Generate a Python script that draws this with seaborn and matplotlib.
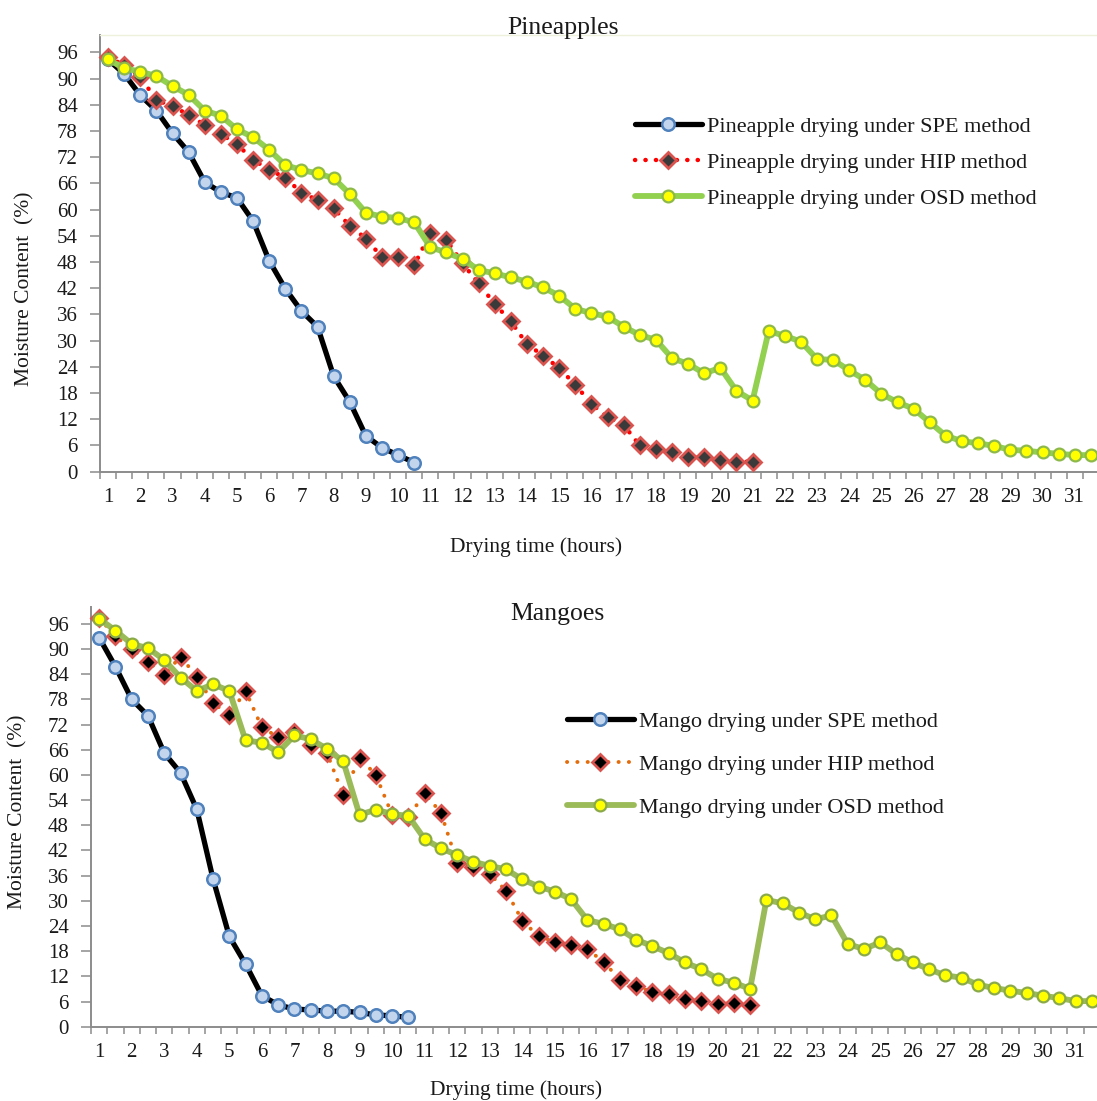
import numpy as np
import pandas as pd
import matplotlib
matplotlib.use("Agg")
import matplotlib.pyplot as plt
import seaborn as sns

# ---- data (moisture content %, one reading every half hour from hour 1) ----
pine_spe = [94.4, 91.1, 86.2, 82.7, 77.5, 73.2, 66.3, 64.0, 62.7, 57.4, 48.3, 41.9,
            36.8, 33.2, 21.9, 16.0, 8.2, 5.5, 3.8, 2.1]
pine_hip = [94.9, 93.1, 90.4, 85.1, 83.7, 81.7, 79.4, 77.3, 75.0, 71.4, 69.2, 67.3,
            63.9, 62.2, 60.3, 56.3, 53.4, 49.1, 49.1, 47.3, 54.6, 53.1, 47.7, 43.1,
            38.4, 34.4, 29.2, 26.6, 23.7, 19.9, 15.5, 12.5, 10.7, 6.0, 5.1, 4.4,
            3.4, 3.3, 2.7, 2.3, 2.3]
pine_osd = [94.4, 92.4, 91.6, 90.6, 88.3, 86.3, 82.7, 81.5, 78.4, 76.6, 73.7, 70.2,
            69.1, 68.3, 67.2, 63.6, 59.3, 58.4, 58.1, 57.1, 51.4, 50.2, 48.7, 46.2,
            45.4, 44.5, 43.5, 42.2, 40.3, 37.3, 36.3, 35.5, 33.2, 31.3, 30.2, 26.0,
            24.7, 22.5, 23.8, 18.5, 16.3, 32.2, 31.1, 29.8, 25.8, 25.6, 23.2, 21.0,
            17.8, 15.9, 14.4, 11.3, 8.2, 7.0, 6.5, 5.9, 5.0, 4.8, 4.4, 4.1, 3.8, 3.8]

mango_spe = [92.7, 85.8, 78.0, 74.1, 65.2, 60.5, 51.8, 35.2, 21.5, 14.9, 7.4, 5.2,
             4.2, 4.0, 3.7, 3.7, 3.4, 2.8, 2.6, 2.2]
mango_hip = [97.4, 93.0, 90.0, 87.0, 83.8, 88.2, 83.4, 77.1, 74.3, 80.0, 71.3, 69.0,
             70.1, 67.2, 65.2, 55.2, 64.1, 60.0, 50.5, 49.9, 55.6, 51.0, 39.1, 38.0,
             36.4, 32.4, 25.3, 21.5, 20.3, 19.5, 18.4, 15.5, 11.1, 9.7, 8.2, 7.7,
             6.6, 6.2, 5.4, 5.6, 5.2]
mango_osd = [97.2, 94.4, 91.2, 90.2, 87.4, 83.2, 80.0, 81.6, 80.0, 68.2, 67.7, 65.4,
             69.4, 68.5, 66.2, 63.2, 50.5, 51.7, 50.7, 50.2, 44.7, 42.5, 40.9, 39.3,
             38.3, 37.5, 35.1, 33.4, 32.2, 30.4, 25.4, 24.5, 23.2, 20.7, 19.2, 17.5,
             15.3, 13.7, 11.4, 10.5, 9.0, 30.2, 29.4, 27.2, 25.6, 26.5, 19.7, 18.5,
             20.1, 17.3, 15.3, 13.7, 12.2, 11.7, 10.0, 9.2, 8.6, 8.0, 7.4, 6.8, 6.1, 6.1]

time_hours = np.arange(1, 32, 0.5)          # category axis: 1, 1.5, ... 31.5
hour_labels = [str(h) for h in range(1, 32)]
y_ticks = list(range(0, 97, 6))

pine_labels = ["Pineapple drying under SPE method",
               "Pineapple drying under HIP method",
               "Pineapple drying under OSD method"]
mango_labels = ["Mango drying under SPE method",
                "Mango drying under HIP method",
                "Mango drying under OSD method"]

# ---- style ----
sns.set_theme(style="white")
plt.rcParams["font.family"] = ["Liberation Serif", "DejaVu Serif"]

W, H = 1097, 1101
fig = plt.figure(figsize=(W / 100, H / 100), dpi=100)

def fx(px):
    return px / W

def fy(py):
    return 1 - py / H

ax1 = fig.add_axes([fx(100), fy(471.7), (1099 - 100) / W, (471.7 - 35) / H])
ax2 = fig.add_axes([fx(91), fy(1026.7), (1100 - 91) / W, (1026.7 - 607) / H])

def series_df(vals):
    return pd.DataFrame({"hour": time_hours[:len(vals)], "mc": vals})

def draw(ax, spe, hip, osd, labels, hip_color, hip_face, osd_color, hip_lw,
         hip_gap, osd_mec):
    sns.lineplot(data=series_df(spe), x="hour", y="mc", ax=ax, color="black",
                 linewidth=3.8, marker="o", markersize=9,
                 markerfacecolor="#C3D5EC", markeredgecolor="#4F81BD",
                 markeredgewidth=1.8, label=labels[0], zorder=3)
    sns.lineplot(data=series_df(hip), x="hour", y="mc", ax=ax, color=hip_color,
                 linewidth=hip_lw, linestyle=(0, (0.05, hip_gap)),
                 dash_capstyle="round", marker="D", markersize=8,
                 markerfacecolor=hip_face, markeredgecolor="#D9534F",
                 markeredgewidth=2.0, label=labels[1], zorder=4)
    sns.lineplot(data=series_df(osd), x="hour", y="mc", ax=ax, color=osd_color,
                 linewidth=4.2, marker="o", markersize=8.5,
                 markerfacecolor="#FFFF00", markeredgecolor=osd_mec,
                 markeredgewidth=1.6, label=labels[2], zorder=5)
    for ln in ax.get_lines():
        ln.set_clip_on(False)

    ax.set_xlim(0.75, 31.75)
    ax.set_ylim(0, 100)
    ax.set_xticks(np.arange(1, 32, 1))
    ax.set_xticklabels(hour_labels)
    ax.set_xticks(np.arange(0.75, 31.8, 0.5), minor=True)
    ax.set_yticks(y_ticks)
    ax.tick_params(axis="x", which="major", length=0, pad=12, labelsize=15,
                   colors="#1a1a1a")
    ax.tick_params(axis="x", which="minor", length=5, width=1.1, color="#8c8c8c",
                   direction="out", bottom=True)
    ax.tick_params(axis="y", which="major", length=7, width=1.1, color="#8c8c8c",
                   direction="out", left=True, pad=9, labelsize=15,
                   labelcolor="#1a1a1a")
    ax.set_xlabel("")
    ax.set_ylabel("")
    for s in ["left", "bottom"]:
        ax.spines[s].set_color("#8c8c8c")
        ax.spines[s].set_linewidth(1.4)
    ax.spines["right"].set_visible(False)
    ax.grid(False)

draw(ax1, pine_spe, pine_hip, pine_osd, pine_labels,
     hip_color="#FF0000", hip_face="#3a3a3a", osd_color="#92D050", hip_lw=3.2,
     hip_gap=2.3, osd_mec="#8DB84A")
ax1.spines["top"].set_color("#eef2dc")
ax1.spines["top"].set_linewidth(1.0)

draw(ax2, mango_spe, mango_hip, mango_osd, mango_labels,
     hip_color="#E46C0A", hip_face="#000000", osd_color="#9BBB59", hip_lw=2.8,
     hip_gap=2.6, osd_mec="#8AAA4A")
ax2.spines["top"].set_visible(False)

# ---- legends ----
for ax, (lx, ly), spacing in [(ax1, (635, 116), 0.70), (ax2, (567, 711), 1.02)]:
    handles = ax.get_lines()[:3]
    leg = ax.legend(handles=handles, labels=[h.get_label() for h in handles],
                    loc="upper left", bbox_to_anchor=(fx(lx), fy(ly)),
                    bbox_transform=fig.transFigure, frameon=False,
                    fontsize=16, handlelength=3.0, handletextpad=0.25,
                    labelspacing=spacing, borderpad=0, borderaxespad=0,
                    numpoints=1)
    for t in leg.get_texts():
        t.set_color("#1a1a1a")

# ---- titles and axis labels ----
fig.text(fx(563), fy(28), "Pineapples", ha="center", va="center", fontsize=18.5,
         color="#1a1a1a")
fig.text(fx(557), fy(614), "Mangoes", ha="center", va="center", fontsize=18.5,
         color="#1a1a1a")
fig.text(fx(536), fy(547), "Drying time (hours)", ha="center", va="center",
         fontsize=15.5, color="#1a1a1a")
fig.text(fx(516), fy(1090), "Drying time (hours)", ha="center", va="center",
         fontsize=15.5, color="#1a1a1a")
fig.text(fx(25), fy(289), "Moisture Content  (%)", ha="center", va="center",
         rotation=90, fontsize=15.5, color="#1a1a1a")
fig.text(fx(18), fy(812), "Moisture Content  (%)", ha="center", va="center",
         rotation=90, fontsize=15.5, color="#1a1a1a")

fig.savefig("out.png", dpi=100, facecolor="white")
